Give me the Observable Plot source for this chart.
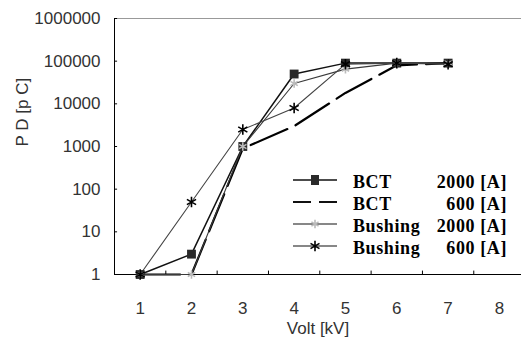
<!DOCTYPE html>
<html>
<head>
<meta charset="utf-8">
<script src="https://cdn.jsdelivr.net/npm/d3@7"></script>
<script src="https://cdn.jsdelivr.net/npm/@observablehq/plot@0.6"></script>
<style>
  html, body { margin: 0; padding: 0; background: #fff; }
  #wrap { position: relative; width: 521px; height: 341px; }
  #legend { position: absolute; left: 291px; top: 170px; font-family: "Liberation Serif", "Times New Roman", serif;
            font-weight: bold; font-size: 18px; letter-spacing: 0.6px; color: #000; }
  #legend .row { display: grid; grid-template-columns: 62px 78px 76px; align-items: center; height: 22px; }
  #legend .val { text-align: right; }
</style>
</head>
<body>
<div id="wrap"></div>
<script>
// Partial discharge [pC] measured against applied voltage [kV]
const volts = [1, 2, 3, 4, 5, 6, 7];
const bct2000 = [1, 3, 1000, 50000, 90000, 90000, 90000];
const bct600 = [1, 1, 900, 3000, 18000, 80000, 90000];
const bushing2000 = [1, 1, 1000, 30000, 65000, 90000, 90000];
const bushing600 = [1, 50, 2500, 8000, 85000, 90000, 85000];

const seriesNames = ["BCT", "BCT", "Bushing", "Bushing"];
const seriesCurrents = ["2000 [A]", "600 [A]", "2000 [A]", "600 [A]"];
const xTickLabels = [1, 2, 3, 4, 5, 6, 7, 8];
const yTickLabels = [1, 10, 100, 1000, 10000, 100000, 1000000];

const styles = [
  {stroke: "#111", strokeWidth: 1.5, dash: null, symbol: "square", fill: "#2a2a2a", mstroke: "none", r: 5},
  {stroke: "#000", strokeWidth: 2.2, dash: "40,9", legendDash: "18,8", symbol: null},
  {stroke: "#3a3a3a", strokeWidth: 1.1, dash: null, symbol: "asterisk", fill: "none", mstroke: "#bbb", r: 4},
  {stroke: "#444", strokeWidth: 1.1, dash: null, symbol: "asterisk", fill: "none", mstroke: "#000", r: 5}
];

const seriesValues = [bct2000, bct600, bushing2000, bushing600];
const rows = seriesValues.map((vals, i) => volts.map((v, j) => ({series: i, volt: v, pd: vals[j]})));

const xHalfTicks = d3.range(1.5, 8, 1);
const font = "'Liberation Sans', Arial, sans-serif";

const marks = [
  // frame: left and bottom axes in black, faint line along the top
  Plot.ruleY([1000000], {x1: 0.5, x2: 8.43, stroke: "#999"}),
  Plot.ruleX([0.5], {y1: 1, y2: 1000000, stroke: "#000"}),
  Plot.ruleY([1], {x1: 0.5, x2: 8.43, stroke: "#000"}),
  // inward tick marks
  Plot.ruleY(yTickLabels, {x1: 0.5, x2: 0.56, stroke: "#000"}),
  Plot.ruleX(xHalfTicks, {y1: 1, y2: Math.pow(10, 0.08), stroke: "#000"}),
  Plot.axisY(yTickLabels, {tickSize: 0, tickPadding: 14, tickFormat: d3.format("d"),
    fontSize: 17, fill: "#333", fontFamily: font, label: null}),
  Plot.axisX(xTickLabels, {tickSize: 0, tickPadding: 27, fontSize: 17, fill: "#333",
    fontFamily: font, label: null}),
  Plot.text(["P D [p C]"], {frameAnchor: "left", rotate: -90, dx: -92, fontSize: 17,
    fill: "#333", fontFamily: font}),
  Plot.text(["Volt [kV]"], {frameAnchor: "bottom", dy: 59, fontSize: 17, fill: "#333",
    fontFamily: font})
];

rows.forEach((data, i) => {
  const s = styles[i];
  marks.push(Plot.line(data, {x: "volt", y: "pd", stroke: s.stroke, strokeWidth: s.strokeWidth,
    strokeDasharray: s.dash, curve: "linear"}));
});
rows.forEach((data, i) => {
  const s = styles[i];
  if (s.symbol) {
    marks.push(Plot.dot(data, {x: "volt", y: "pd", symbol: s.symbol, r: s.r, fill: s.fill,
      stroke: s.mstroke, strokeWidth: 1.6}));
  }
});

const chart = Plot.plot({
  width: 521,
  height: 341,
  marginLeft: 114,
  marginRight: 0,
  marginTop: 18,
  marginBottom: 67,
  x: {domain: [0.5, 8.43], axis: null},
  y: {type: "log", domain: [1, 1000000], axis: null},
  style: {background: "#fff", overflow: "visible"},
  marks
});
const wrap = document.getElementById("wrap");
wrap.appendChild(chart);

// legend drawn over the plot area
const legend = document.createElement("div");
legend.id = "legend";
styles.forEach((s, i) => {
  const row = document.createElement("div");
  row.className = "row";
  const sw = d3.create("svg").attr("width", 48).attr("height", 20);
  sw.append("line").attr("x1", 2).attr("x2", 46).attr("y1", 10).attr("y2", 10)
    .attr("stroke", "#111").attr("stroke-width", s.strokeWidth)
    .attr("stroke-dasharray", s.legendDash || null);
  if (s.symbol === "square") {
    sw.append("rect").attr("x", 20).attr("y", 5).attr("width", 8).attr("height", 10).attr("fill", s.fill);
  } else if (s.symbol === "asterisk") {
    const sym = d3.symbol(d3.symbolAsterisk, s.r * s.r * 3)();
    sw.append("path").attr("d", sym).attr("transform", "translate(24,10)")
      .attr("fill", "none").attr("stroke", s.mstroke).attr("stroke-width", 1.6);
  }
  const cell = document.createElement("div");
  cell.appendChild(sw.node());
  const name = document.createElement("div");
  name.textContent = seriesNames[i];
  const val = document.createElement("div");
  val.className = "val";
  val.textContent = seriesCurrents[i];
  row.append(cell, name, val);
  legend.appendChild(row);
});
wrap.appendChild(legend);
</script>
</body>
</html>
